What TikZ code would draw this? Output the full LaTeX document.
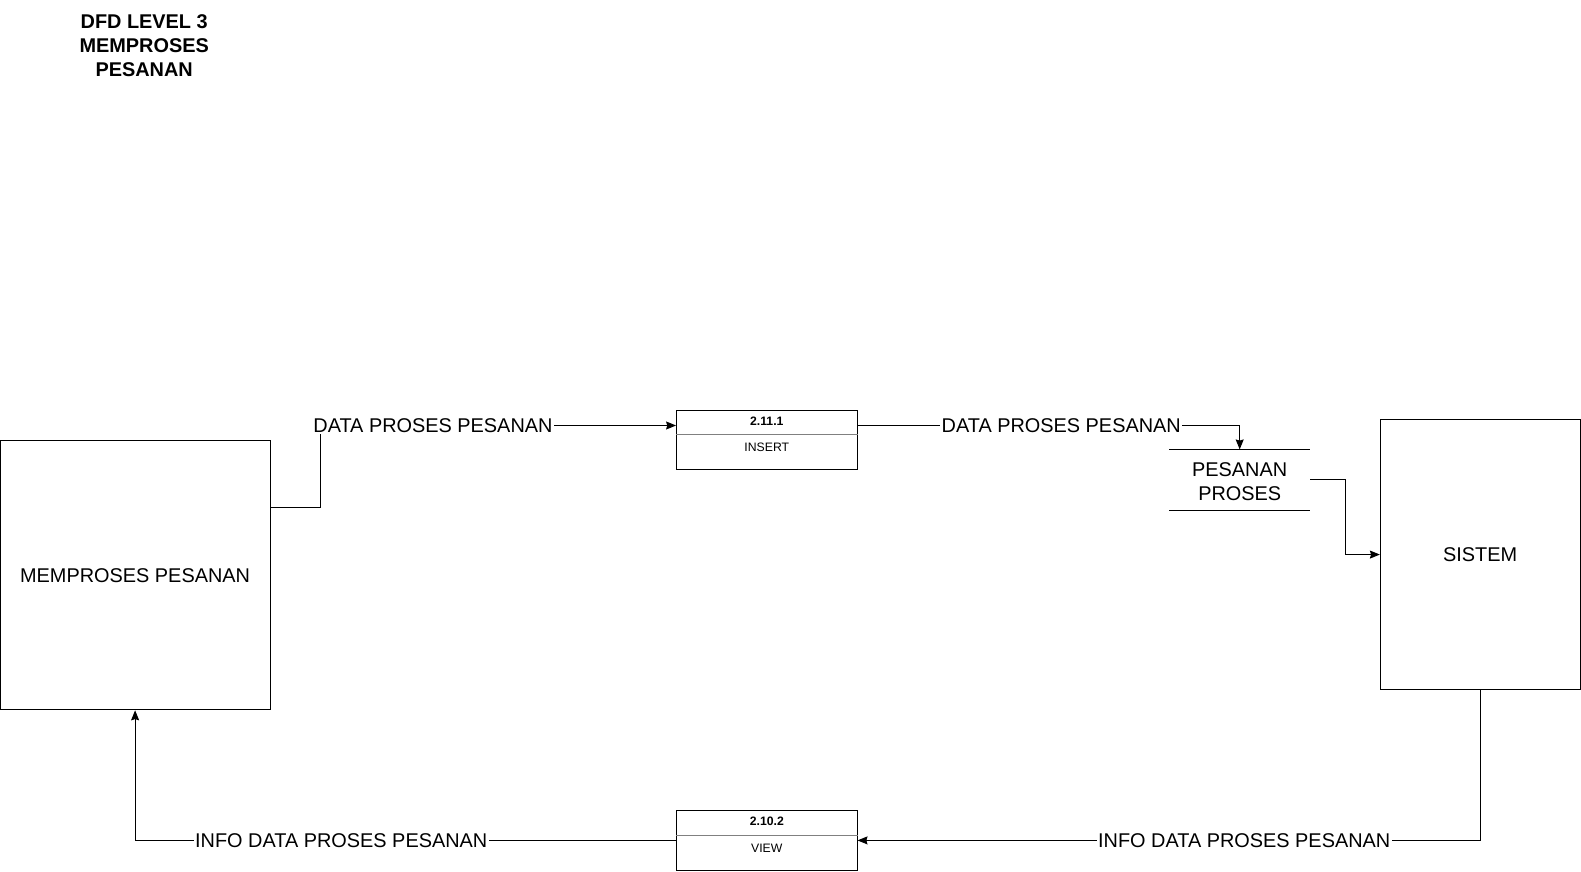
\documentclass[tikz,border=0pt]{standalone}
\usepackage{fontspec}
\setmainfont{Liberation Sans}
\usetikzlibrary{positioning, arrows.meta}
\tikzset{
  box1/.style = {
    shape = rectangle,
    draw = black,
    line width = 0.7pt,
    align = center,
    font = \fontsize{14.15}{17.2}\selectfont,
  }
}
\tikzset{
  proc1/.style = {
    shape = rectangle,
    draw = black,
    line width = 0.7pt,
    minimum width = 45.12mm,
    minimum height = 14.87mm,
  }
}
\tikzset{
  small1/.style = {
    font = \fontsize{8.7}{10}\selectfont,
    inner sep = 0pt,
  }
}
\tikzset{
  lbl1/.style = {
    fill = white,
    inner sep = 1pt,
    font = \fontsize{14.15}{17.2}\selectfont,
  }
}
\tikzset{
  arrow1/.style = {
    draw = black, line width = 0.7pt, -{Stealth[length = 2.5mm, width = 2mm, inset = 0.3mm]},
  }
}
\begin{document}
\begin{tikzpicture}[x=0.2521mm, y=-0.2521mm]
            \useasboundingbox (0,0) rectangle (1568,864);
            \node[align = center, font = \bfseries\fontsize{14.15}{17.2}\selectfont](title) at (143,45){DFD LEVEL 3\\MEMPROSES\\PESANAN};
            \node[box1, minimum width = 67.56mm, minimum height = 67.3mm](mp) at (134,570.5){MEMPROSES PESANAN};
            \node[box1, minimum width = 49.91mm, minimum height = 67.56mm](sis) at (1468,550){SISTEM};
            \node[proc1](ins) at (760.5,436.5){};
            \draw[gray, line width = 0.5pt]([yshift = 1.386mm]ins.west) -- ([yshift = 1.386mm]ins.east);
            \node[small1, font = \bfseries\fontsize{8.7}{10}\selectfont, above = 4.66mm of ins.center, anchor = center](insh){2.11.1};
            \node[small1, below = 1.89mm of ins.center, anchor = center](insb){INSERT};
            \node[proc1](view) at (760.5,833.5){};
            \draw[gray, line width = 0.5pt]([yshift = 1.386mm]view.west) -- ([yshift = 1.386mm]view.east);
            \node[small1, font = \bfseries\fontsize{8.7}{10}\selectfont, above = 4.66mm of view.center, anchor = center](viewh){2.10.2};
            \node[small1, below = 1.89mm of view.center, anchor = center](viewb){VIEW};
            \node[minimum width = 35.04mm, minimum height = 15.12mm](ds) at (1229.5,476){};
            \node[align = center, font = \fontsize{14.15}{17.2}\selectfont](dst) at (1229.5,478){PESANAN\\PROSES};
            \draw[line width = 0.7pt](ds.north west) -- (ds.north east);
            \draw[line width = 0.7pt](ds.south west) -- (ds.south east);
            \draw[arrow1](mp.east |- 0,503) -| (318,422) -- node[lbl1, pos = 0.316]{DATA PROSES PESANAN} (ins.west |- 0,422);
            \draw[arrow1](ins.east |- 0,422) -- node[lbl1, pos = 0.533]{DATA PROSES PESANAN} (ds.north |- 0,422) -- (ds.north);
            \draw[arrow1](ds.east) -| (1334,550) -- (sis.west);
            \draw[arrow1](sis.south) -- (sis.south |- view.east) -- node[lbl1, pos = 0.379]{INFO DATA PROSES PESANAN} (view.east);
            \draw[arrow1](view.west) -- node[lbl1, pos = 0.619]{INFO DATA PROSES PESANAN} (mp.south |- view.west) -- (mp.south);
        \end{tikzpicture}
\end{document}
